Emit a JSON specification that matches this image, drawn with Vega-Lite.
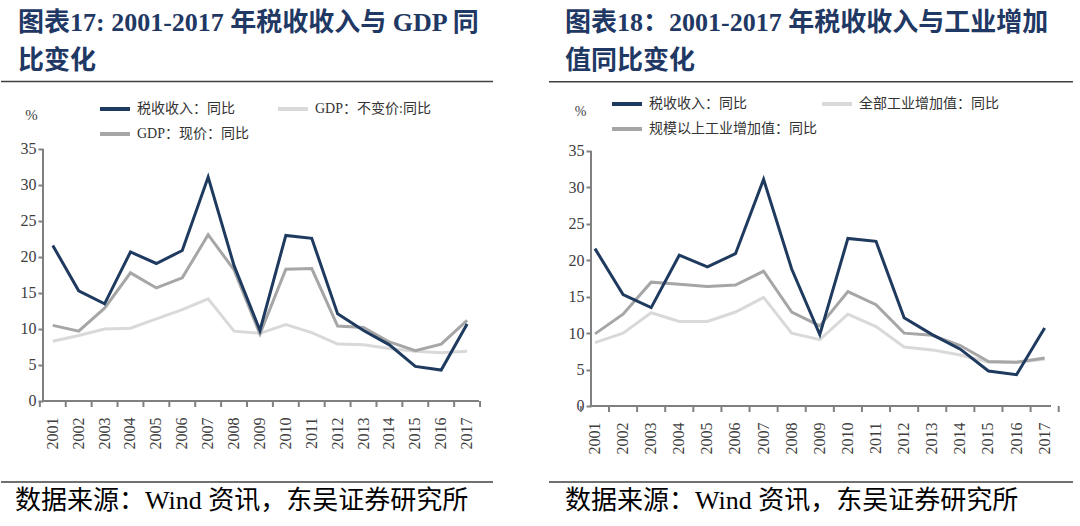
{
  "$schema": "https://vega.github.io/schema/vega-lite/v6.json",
  "padding": 0,
  "background": "white",
  "spacing": 54,
  "config": {"view": {"stroke": null}},
  "resolve": {"scale": {"color": "independent"}, "legend": {"color": "independent"}},
  "datasets": {
    "left": [
      {"year": 2001, "series": "税收收入：同比", "value": 21.6},
      {"year": 2002, "series": "税收收入：同比", "value": 15.3},
      {"year": 2003, "series": "税收收入：同比", "value": 13.5},
      {"year": 2004, "series": "税收收入：同比", "value": 20.7},
      {"year": 2005, "series": "税收收入：同比", "value": 19.1},
      {"year": 2006, "series": "税收收入：同比", "value": 20.9},
      {"year": 2007, "series": "税收收入：同比", "value": 31.1},
      {"year": 2008, "series": "税收收入：同比", "value": 18.8},
      {"year": 2009, "series": "税收收入：同比", "value": 9.8},
      {"year": 2010, "series": "税收收入：同比", "value": 23.0},
      {"year": 2011, "series": "税收收入：同比", "value": 22.6},
      {"year": 2012, "series": "税收收入：同比", "value": 12.1},
      {"year": 2013, "series": "税收收入：同比", "value": 9.8},
      {"year": 2014, "series": "税收收入：同比", "value": 7.8},
      {"year": 2015, "series": "税收收入：同比", "value": 4.8},
      {"year": 2016, "series": "税收收入：同比", "value": 4.3},
      {"year": 2017, "series": "税收收入：同比", "value": 10.7},
      {"year": 2001, "series": "GDP：不变价:同比", "value": 8.3},
      {"year": 2002, "series": "GDP：不变价:同比", "value": 9.1},
      {"year": 2003, "series": "GDP：不变价:同比", "value": 10.0},
      {"year": 2004, "series": "GDP：不变价:同比", "value": 10.1},
      {"year": 2005, "series": "GDP：不变价:同比", "value": 11.4},
      {"year": 2006, "series": "GDP：不变价:同比", "value": 12.7},
      {"year": 2007, "series": "GDP：不变价:同比", "value": 14.2},
      {"year": 2008, "series": "GDP：不变价:同比", "value": 9.7},
      {"year": 2009, "series": "GDP：不变价:同比", "value": 9.4},
      {"year": 2010, "series": "GDP：不变价:同比", "value": 10.6},
      {"year": 2011, "series": "GDP：不变价:同比", "value": 9.5},
      {"year": 2012, "series": "GDP：不变价:同比", "value": 7.9},
      {"year": 2013, "series": "GDP：不变价:同比", "value": 7.8},
      {"year": 2014, "series": "GDP：不变价:同比", "value": 7.3},
      {"year": 2015, "series": "GDP：不变价:同比", "value": 6.9},
      {"year": 2016, "series": "GDP：不变价:同比", "value": 6.7},
      {"year": 2017, "series": "GDP：不变价:同比", "value": 6.9},
      {"year": 2001, "series": "GDP：现价：同比", "value": 10.5},
      {"year": 2002, "series": "GDP：现价：同比", "value": 9.7},
      {"year": 2003, "series": "GDP：现价：同比", "value": 12.9},
      {"year": 2004, "series": "GDP：现价：同比", "value": 17.8},
      {"year": 2005, "series": "GDP：现价：同比", "value": 15.7},
      {"year": 2006, "series": "GDP：现价：同比", "value": 17.1},
      {"year": 2007, "series": "GDP：现价：同比", "value": 23.1},
      {"year": 2008, "series": "GDP：现价：同比", "value": 18.2},
      {"year": 2009, "series": "GDP：现价：同比", "value": 9.3},
      {"year": 2010, "series": "GDP：现价：同比", "value": 18.3},
      {"year": 2011, "series": "GDP：现价：同比", "value": 18.4},
      {"year": 2012, "series": "GDP：现价：同比", "value": 10.4},
      {"year": 2013, "series": "GDP：现价：同比", "value": 10.2},
      {"year": 2014, "series": "GDP：现价：同比", "value": 8.2},
      {"year": 2015, "series": "GDP：现价：同比", "value": 7.0},
      {"year": 2016, "series": "GDP：现价：同比", "value": 7.9},
      {"year": 2017, "series": "GDP：现价：同比", "value": 11.2}
    ],
    "right": [
      {"year": 2001, "series": "税收收入：同比", "value": 21.6},
      {"year": 2002, "series": "税收收入：同比", "value": 15.3},
      {"year": 2003, "series": "税收收入：同比", "value": 13.5},
      {"year": 2004, "series": "税收收入：同比", "value": 20.7},
      {"year": 2005, "series": "税收收入：同比", "value": 19.1},
      {"year": 2006, "series": "税收收入：同比", "value": 20.9},
      {"year": 2007, "series": "税收收入：同比", "value": 31.1},
      {"year": 2008, "series": "税收收入：同比", "value": 18.8},
      {"year": 2009, "series": "税收收入：同比", "value": 9.8},
      {"year": 2010, "series": "税收收入：同比", "value": 23.0},
      {"year": 2011, "series": "税收收入：同比", "value": 22.6},
      {"year": 2012, "series": "税收收入：同比", "value": 12.1},
      {"year": 2013, "series": "税收收入：同比", "value": 9.8},
      {"year": 2014, "series": "税收收入：同比", "value": 7.8},
      {"year": 2015, "series": "税收收入：同比", "value": 4.8},
      {"year": 2016, "series": "税收收入：同比", "value": 4.3},
      {"year": 2017, "series": "税收收入：同比", "value": 10.7},
      {"year": 2001, "series": "全部工业增加值：同比", "value": 8.7},
      {"year": 2002, "series": "全部工业增加值：同比", "value": 10.0},
      {"year": 2003, "series": "全部工业增加值：同比", "value": 12.8},
      {"year": 2004, "series": "全部工业增加值：同比", "value": 11.6},
      {"year": 2005, "series": "全部工业增加值：同比", "value": 11.6},
      {"year": 2006, "series": "全部工业增加值：同比", "value": 12.9},
      {"year": 2007, "series": "全部工业增加值：同比", "value": 14.9},
      {"year": 2008, "series": "全部工业增加值：同比", "value": 10.0},
      {"year": 2009, "series": "全部工业增加值：同比", "value": 9.1},
      {"year": 2010, "series": "全部工业增加值：同比", "value": 12.6},
      {"year": 2011, "series": "全部工业增加值：同比", "value": 10.9},
      {"year": 2012, "series": "全部工业增加值：同比", "value": 8.1},
      {"year": 2013, "series": "全部工业增加值：同比", "value": 7.7},
      {"year": 2014, "series": "全部工业增加值：同比", "value": 7.0},
      {"year": 2015, "series": "全部工业增加值：同比", "value": 6.0},
      {"year": 2016, "series": "全部工业增加值：同比", "value": 6.0},
      {"year": 2017, "series": "全部工业增加值：同比", "value": 6.4},
      {"year": 2001, "series": "规模以上工业增加值：同比", "value": 9.9},
      {"year": 2002, "series": "规模以上工业增加值：同比", "value": 12.6},
      {"year": 2003, "series": "规模以上工业增加值：同比", "value": 17.0},
      {"year": 2004, "series": "规模以上工业增加值：同比", "value": 16.7},
      {"year": 2005, "series": "规模以上工业增加值：同比", "value": 16.4},
      {"year": 2006, "series": "规模以上工业增加值：同比", "value": 16.6},
      {"year": 2007, "series": "规模以上工业增加值：同比", "value": 18.5},
      {"year": 2008, "series": "规模以上工业增加值：同比", "value": 12.9},
      {"year": 2009, "series": "规模以上工业增加值：同比", "value": 11.0},
      {"year": 2010, "series": "规模以上工业增加值：同比", "value": 15.7},
      {"year": 2011, "series": "规模以上工业增加值：同比", "value": 13.9},
      {"year": 2012, "series": "规模以上工业增加值：同比", "value": 10.0},
      {"year": 2013, "series": "规模以上工业增加值：同比", "value": 9.7},
      {"year": 2014, "series": "规模以上工业增加值：同比", "value": 8.3},
      {"year": 2015, "series": "规模以上工业增加值：同比", "value": 6.1},
      {"year": 2016, "series": "规模以上工业增加值：同比", "value": 6.0},
      {"year": 2017, "series": "规模以上工业增加值：同比", "value": 6.6}
    ]
  },
  "hconcat": [
    {
      "width": 492,
      "height": 526,
      "data": {"name": "left"},
      "resolve": {"scale": {"x": "independent"}, "axis": {"x": "independent"}},
      "layer": [
        {
          "layer": [
            {
              "data": {"values": [{}]},
              "mark": {"type": "rule", "color": "#404040", "strokeWidth": 1.5},
              "encoding": {
                "x": {"datum": 1998.862, "type": "quantitative", "scale": {"domain": [1998.862, 2018.046], "nice": false, "zero": false}, "axis": null},
                "x2": {"datum": 2018.046},
                "y": {"datum": 44.375, "type": "quantitative", "scale": {"domain": [-17.361, 55.694], "nice": false, "zero": false}, "title": null}
              }
            },
            {
              "data": {"values": [{}]},
              "mark": {"type": "rule", "color": "#404040", "strokeWidth": 1.5},
              "encoding": {
                "x": {"datum": 1998.862, "type": "quantitative", "axis": null},
                "x2": {"datum": 2018.046},
                "y": {"datum": -11.25, "type": "quantitative", "title": null}
              }
            },
            {
              "data": {"values": [{}]},
              "mark": {"type": "rule", "color": "#808080", "strokeWidth": 2},
              "encoding": {
                "x": {"datum": 2000.5, "type": "quantitative", "axis": null},
                "y": {"datum": 0, "type": "quantitative", "title": null},
                "y2": {"datum": 35}
              }
            },
            {
              "data": {"values": [{}]},
              "mark": {"type": "rule", "color": "#808080", "strokeWidth": 2},
              "encoding": {
                "x": {"datum": 2000.5, "type": "quantitative", "axis": null},
                "x2": {"datum": 2017.5},
                "y": {"datum": 0, "type": "quantitative", "title": null}
              }
            },
            {
              "data": {"values": [{}]},
              "mark": {"type": "text", "align": "left", "baseline": "alphabetic", "font": "Liberation Serif, Noto Sans CJK SC", "fontSize": 26, "fontWeight": "bold", "color": "#1f3864", "lineHeight": 38},
              "encoding": {
                "x": {"datum": 1999.525, "type": "quantitative", "axis": null},
                "y": {"datum": 51.39, "type": "quantitative", "title": null},
                "text": {"value": ["图表17: 2001-2017 年税收收入与 GDP 同", "比变化"]}
              }
            },
            {
              "data": {"values": [{}]},
              "mark": {"type": "text", "align": "left", "baseline": "alphabetic", "font": "Liberation Serif, Noto Sans CJK SC", "fontSize": 26, "color": "#000000"},
              "encoding": {
                "x": {"datum": 1999.408, "type": "quantitative", "axis": null},
                "y": {"datum": -15.0, "type": "quantitative", "title": null},
                "text": {"value": "数据来源：Wind 资讯，东吴证券研究所"}
              }
            }
          ]
        },
        {
          "layer": [
            {
              "transform": [{"filter": "datum.series === '税收收入：同比'"}],
              "mark": {"type": "rule", "color": "#808080", "strokeWidth": 2},
              "encoding": {
                "x": {"field": "year", "type": "ordinal", "bandPosition": 0,
                  "scale": {"type": "band", "paddingInner": 0, "paddingOuter": 1.0915, "align": 0.75},
                  "axis": {"title": null, "ticks": false, "tickSize": 0, "offset": -125, "domain": false, "grid": false,
                    "labelAngle": 270, "labelPadding": 16, "labelFont": "Liberation Serif", "labelFontSize": 16, "labelColor": "#404040", "labelOverlap": false}},
                "y": {"datum": 0, "type": "quantitative", "title": "%"},
                "y2": {"datum": -0.833}
              }
            },
            {
              "transform": [{"filter": "datum.series === '税收收入：同比' && datum.year === 2017"}],
              "mark": {"type": "rule", "color": "#808080", "strokeWidth": 2},
              "encoding": {
                "x": {"field": "year", "type": "ordinal", "bandPosition": 1},
                "y": {"datum": 0, "type": "quantitative", "title": "%"},
                "y2": {"datum": -0.833}
              }
            },
            {
              "transform": [{"filter": "datum.series === 'GDP：不变价:同比'"}],
              "mark": {"type": "line", "strokeWidth": 3},
              "encoding": {
                "x": {"field": "year", "type": "ordinal", "bandPosition": 0.5},
                "y": {"field": "value", "type": "quantitative", "title": "%",
                  "axis": {"values": [0,5,10,15,20,25,30,35], "offset": -42, "domain": false, "grid": false, "tickSize": 5, "tickWidth": 2, "tickColor": "#808080",
                    "labelPadding": 2, "labelFont": "Liberation Serif", "labelFontSize": 16, "labelColor": "#404040", "labelOverlap": false, "labelFlush": false,
                    "titleAngle": 0, "titleX": -12, "titleY": 114, "titleAlign": "center", "titleBaseline": "middle", "titleFont": "Liberation Serif", "titleFontSize": 15, "titleFontWeight": "normal", "titleColor": "#404040"}},
                "color": {"field": "series", "type": "nominal",
                  "scale": {"domain": ["税收收入：同比", "GDP：不变价:同比", "GDP：现价：同比"], "range": ["#1f3a5f", "#d9d9d9", "#a6a6a6"]},
                  "legend": {"orient": "none", "direction": "horizontal", "legendX": 97, "legendY": 92, "columns": 2, "title": null, "symbolType": "stroke", "symbolSize": 900, "symbolStrokeWidth": 4,
                    "labelFont": "Liberation Serif, Noto Sans CJK SC", "labelFontSize": 14, "labelColor": "#333333", "columnPadding": 20, "rowPadding": -5, "padding": 0, "labelOffset": 5, "labelLimit": 400}}
              }
            },
            {
              "transform": [{"filter": "datum.series === 'GDP：现价：同比'"}],
              "mark": {"type": "line", "strokeWidth": 3},
              "encoding": {
                "x": {"field": "year", "type": "ordinal", "bandPosition": 0.5},
                "y": {"field": "value", "type": "quantitative", "title": "%"},
                "color": {"field": "series", "type": "nominal"}
              }
            },
            {
              "transform": [{"filter": "datum.series === '税收收入：同比'"}],
              "mark": {"type": "line", "strokeWidth": 3},
              "encoding": {
                "x": {"field": "year", "type": "ordinal", "bandPosition": 0.5},
                "y": {"field": "value", "type": "quantitative", "title": "%"},
                "color": {"field": "series", "type": "nominal"}
              }
            }
          ]
        }
      ]
    },
    {
      "width": 534,
      "height": 526,
      "data": {"name": "right"},
      "resolve": {"scale": {"x": "independent"}, "axis": {"x": "independent"}},
      "layer": [
        {
          "layer": [
            {
              "data": {"values": [{}]},
              "mark": {"type": "rule", "color": "#404040", "strokeWidth": 1.5},
              "encoding": {
                "x": {"datum": 1998.948, "type": "quantitative", "scale": {"domain": [1998.948, 2018.683], "nice": false, "zero": false}, "axis": null},
                "x2": {"datum": 2018.313},
                "y": {"datum": 44.51, "type": "quantitative", "scale": {"domain": [-16.47, 55.723], "nice": false, "zero": false}, "title": null}
              }
            },
            {
              "data": {"values": [{}]},
              "mark": {"type": "rule", "color": "#404040", "strokeWidth": 1.5},
              "encoding": {
                "x": {"datum": 1998.948, "type": "quantitative", "axis": null},
                "x2": {"datum": 2018.313},
                "y": {"datum": -10.43, "type": "quantitative", "title": null}
              }
            },
            {
              "data": {"values": [{}]},
              "mark": {"type": "rule", "color": "#808080", "strokeWidth": 2},
              "encoding": {
                "x": {"datum": 2000.5, "type": "quantitative", "axis": null},
                "y": {"datum": 0, "type": "quantitative", "title": null},
                "y2": {"datum": 35}
              }
            },
            {
              "data": {"values": [{}]},
              "mark": {"type": "rule", "color": "#808080", "strokeWidth": 2},
              "encoding": {
                "x": {"datum": 2000.5, "type": "quantitative", "axis": null},
                "x2": {"datum": 2017.5},
                "y": {"datum": 0, "type": "quantitative", "title": null}
              }
            },
            {
              "data": {"values": [{}]},
              "mark": {"type": "text", "align": "left", "baseline": "alphabetic", "font": "Liberation Serif, Noto Sans CJK SC", "fontSize": 26, "fontWeight": "bold", "color": "#1f3864", "lineHeight": 38},
              "encoding": {
                "x": {"datum": 1999.539, "type": "quantitative", "axis": null},
                "y": {"datum": 51.47, "type": "quantitative", "title": null},
                "text": {"value": ["图表18：2001-2017 年税收收入与工业增加", "值同比变化"]}
              }
            },
            {
              "data": {"values": [{}]},
              "mark": {"type": "text", "align": "left", "baseline": "alphabetic", "font": "Liberation Serif, Noto Sans CJK SC", "fontSize": 26, "color": "#000000"},
              "encoding": {
                "x": {"datum": 1999.539, "type": "quantitative", "axis": null},
                "y": {"datum": -14.14, "type": "quantitative", "title": null},
                "text": {"value": "数据来源：Wind 资讯，东吴证券研究所"}
              }
            }
          ]
        },
        {
          "layer": [
            {
              "transform": [{"filter": "datum.series === '税收收入：同比'"}],
              "mark": {"type": "rule", "color": "#808080", "strokeWidth": 2},
              "encoding": {
                "x": {"field": "year", "type": "ordinal", "bandPosition": 0,
                  "scale": {"type": "band", "paddingInner": 0, "paddingOuter": 1.3675, "align": 0.5676},
                  "axis": {"title": null, "ticks": false, "tickSize": 0, "offset": -120, "domain": false, "grid": false,
                    "labelAngle": 270, "labelPadding": 16, "labelFont": "Liberation Serif", "labelFontSize": 16, "labelColor": "#404040", "labelOverlap": false}},
                "y": {"datum": 0, "type": "quantitative", "title": "%"},
                "y2": {"datum": -0.8235}
              }
            },
            {
              "transform": [{"filter": "datum.series === '税收收入：同比' && datum.year === 2017"}],
              "mark": {"type": "rule", "color": "#808080", "strokeWidth": 2},
              "encoding": {
                "x": {"field": "year", "type": "ordinal", "bandPosition": 1},
                "y": {"datum": 0, "type": "quantitative", "title": "%"},
                "y2": {"datum": -0.8235}
              }
            },
            {
              "transform": [{"filter": "datum.series === '全部工业增加值：同比'"}],
              "mark": {"type": "line", "strokeWidth": 3},
              "encoding": {
                "x": {"field": "year", "type": "ordinal", "bandPosition": 0.5},
                "y": {"field": "value", "type": "quantitative", "title": "%",
                  "axis": {"values": [0,5,10,15,20,25,30,35], "offset": -42, "domain": false, "grid": false, "tickSize": 5, "tickWidth": 2, "tickColor": "#808080",
                    "labelPadding": 2, "labelFont": "Liberation Serif", "labelFontSize": 16, "labelColor": "#404040", "labelOverlap": false, "labelFlush": false,
                    "titleAngle": 0, "titleX": -11, "titleY": 111, "titleAlign": "center", "titleBaseline": "middle", "titleFont": "Liberation Serif", "titleFontSize": 14, "titleFontWeight": "normal", "titleColor": "#404040"}},
                "color": {"field": "series", "type": "nominal",
                  "scale": {"domain": ["税收收入：同比", "全部工业增加值：同比", "规模以上工业增加值：同比"], "range": ["#1f3a5f", "#d9d9d9", "#a6a6a6"]},
                  "legend": {"orient": "none", "direction": "horizontal", "legendX": 61, "legendY": 87, "columns": 2, "title": null, "symbolType": "stroke", "symbolSize": 900, "symbolStrokeWidth": 4,
                    "labelFont": "Liberation Serif, Noto Sans CJK SC", "labelFontSize": 14, "labelColor": "#333333", "columnPadding": -3, "rowPadding": -2, "padding": 0, "labelOffset": 5, "labelLimit": 400}}
              }
            },
            {
              "transform": [{"filter": "datum.series === '规模以上工业增加值：同比'"}],
              "mark": {"type": "line", "strokeWidth": 3},
              "encoding": {
                "x": {"field": "year", "type": "ordinal", "bandPosition": 0.5},
                "y": {"field": "value", "type": "quantitative", "title": "%"},
                "color": {"field": "series", "type": "nominal"}
              }
            },
            {
              "transform": [{"filter": "datum.series === '税收收入：同比'"}],
              "mark": {"type": "line", "strokeWidth": 3},
              "encoding": {
                "x": {"field": "year", "type": "ordinal", "bandPosition": 0.5},
                "y": {"field": "value", "type": "quantitative", "title": "%"},
                "color": {"field": "series", "type": "nominal"}
              }
            }
          ]
        }
      ]
    }
  ]
}
